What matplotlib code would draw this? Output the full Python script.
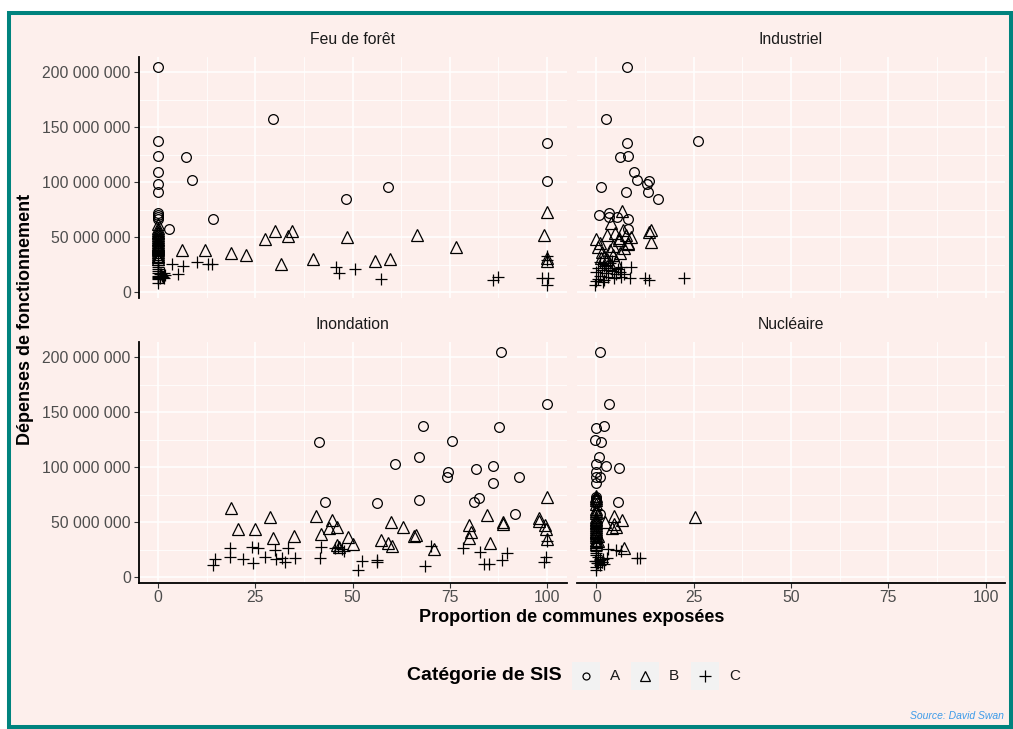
import numpy as np
import matplotlib
matplotlib.use("Agg")
import matplotlib.pyplot as plt
from matplotlib.lines import Line2D
from matplotlib.patches import Rectangle
from matplotlib.ticker import FuncFormatter, MultipleLocator

# ---- data (x = % communes exposées, y = dépenses en millions d'euros) ----
feu_a_x = [0, 29.6, 0, 0, 0, 0, 0, 7.2, 8.7, 100, 100, 48.4, 59, 14.1, 2.9, 0, 0, 0, 0]
feu_a_y = [205, 157, 137, 123.6, 109, 98, 91, 122.4, 102, 135.7, 100.5, 85, 95.4, 66.7, 57.3, 72, 70, 68.5, 66]
feu_b_x = [0, 0, 0, 0, 0, 0, 0, 0, 0, 0, 0, 0, 0, 0, 0, 0, 0, 0, 0, 0, 0, 0,
           6.3, 12.1, 18.8, 22.6, 27.6, 30.1, 33.3, 34.5,
           31.7, 39.8, 48.7, 55.8, 59.6, 66.6, 76.5, 100, 99.3, 100, 100]
feu_b_y = [62, 56, 54, 50, 47, 44, 42, 40, 38, 35, 33, 30, 31.5, 36.5, 39, 41, 43, 45.5, 48.5, 52, 55, 58,
           38.2, 38.2, 35.8, 33.3, 47.9, 55.4, 50.9, 55.2,
           25.8, 30.3, 50.3, 28.5, 30, 52.1, 40.9, 73, 52.1, 31, 28.5]
feu_c_x = [0, 0, 0, 0, 0, 0, 0, 0, 0, 0, 0, 1, 1.5, 0.8, 1.8, 0.4, 1.2, 0.6, 1.6,
           3.7, 5.1, 6.5, 10.1, 12.9, 13.8,
           45.7, 46.6, 50.7, 57.2, 86.2, 87.5, 98.6, 100.3, 100, 100, 100]
feu_c_y = [27, 25, 23, 21, 19, 17, 15, 14, 13, 12, 8, 15, 13, 16.5, 15.5, 16, 14, 12.5, 17,
           25.2, 16.1, 24, 27, 25.2, 25.2,
           23, 17.6, 21.2, 11.5, 10.6, 14, 12.4, 12.4, 6.4, 29, 33]

ind_a_x = [7.9, 2.4, 7.9, 26, 6, 8, 9.7, 10.5, 1.1, 7.5, 12.9, 13.6, 13.3, 15.7, 0.6, 3.3, 3.3, 5.3, 8.1, 8.1]
ind_a_y = [204.8, 157.3, 135.7, 137, 122.4, 123.6, 109, 102, 95.4, 90.6, 98, 100.6, 91, 85, 70, 71.8, 68.5, 68.5,
           66.7, 57.3]
ind_b_x = [6.6, 3.7, 14.1, 13.5, 14.1, 0, 0.3, 2.6, 4.7, 6.7, 7.7, 8.1, 5.8, 3.4, 1.5, 4.3, 6, 2.6, 5.1, 1.1,
           3.4, 2, 5.9, 8, 7.2, 4.2, 1, 9]
ind_b_y = [74, 62.4, 56.4, 55, 45.2, 48.2, 41.2, 51.8, 53.3, 56.4, 51.8, 43.5, 47.3, 38.2, 36.7, 33.6, 35.2, 30,
           27.5, 30.6, 25.8, 32.1, 48.8, 44.2, 40, 42, 45, 50]
ind_c_x = [22.6, 12.6, 13.6, 8.9, 8.5, 6.3, -0.3, 0.5, 1, 0, 1.5, 2, 2.5, 3, 3, 3.5, 4, 4.5, 5, 5.5, 1, 2, 6, 7,
           4, 0.5, 6.4, 0, 1.8]
ind_c_y = [12.7, 12.4, 10.9, 23, 12.4, 13.9, 6.4, 12, 15, 18, 20, 24, 17, 14, 22, 26, 19, 13, 16, 21, 27, 11, 18,
           16, 28, 22, 23, 10, 9]

ino_a_x = [88.1, 99.9, 68.2, 87.7, 41.4, 75.7, 67, 60.9, 74.6, 74.2, 81.8, 86.2, 86.1, 92.8, 42.9, 56.2, 67, 81.2,
           82.6, 91.7]
ino_a_y = [204.8, 157.3, 137, 136, 122.4, 123.9, 109.4, 102.4, 95.7, 91.2, 98.5, 100.6, 85.5, 90.9, 68.2, 67, 70,
           68.5, 71.8, 57.3]
ino_b_x = [18.9, 20.6, 25, 28.9, 29.6, 35, 40.6, 42, 44.7, 44, 46.1, 46.1, 46.6, 48.9, 50.2, 57.2, 59, 60.2, 59.9,
           62.9, 66.2, 65.9, 71, 80, 80.4, 80, 84.6, 85.4, 88.8, 88.8, 97.9, 98, 99.5, 99.8, 99.9, 100]
ino_b_y = [62.4, 43.9, 43.3, 54.2, 35.2, 37.3, 55.2, 38.8, 51.8, 44.2, 45.8, 29.1, 27.6, 36.7, 29.7, 33.6, 31.2,
           28.2, 50.3, 45.2, 38.2, 37.3, 25.5, 47.3, 40.6, 35.2, 56.4, 30.6, 50.3, 48.2, 53.3, 51, 47.3, 43.3,
           73, 34.2]
ino_c_x = [14.2, 14.7, 18.5, 18.5, 21.9, 24.1, 24.3, 25.8, 27.5, 30.1, 30.3, 31.8, 32.6, 33.5, 35.2, 41.6, 41.9,
           45.5, 46.4, 47.2, 47.9, 51.3, 52.5, 56.2, 56.2, 68.6, 70.2, 78.5, 82.8, 83.8, 85.2, 88.4, 89.6, 99.1,
           99.7, 100]
ino_c_y = [10.9, 16, 26, 17.9, 16, 27, 12.4, 26, 18.5, 24.5, 16.4, 17, 13.9, 26, 17.6, 17, 27.6, 26, 27.6, 25.2,
           23.6, 6.4, 14.8, 15.5, 13.6, 10.3, 28.2, 26, 22.4, 12.1, 12.1, 15.5, 21.5, 13.9, 17.9, 33]

nuc_a_x = [0.9, 3.1, -0.2, 1.9, -0.3, 1.1, 0.7, 0, 2.5, 5.9, -0.2, 1, 0, 0, 5.6, 0, 0, 0, 0, 1]
nuc_a_y = [204.8, 157.6, 135.8, 137, 124.2, 122.7, 109.4, 102.4, 100.9, 98.8, 95.7, 91.2, 91.2, 85.2, 68.2, 73,
           71, 69.5, 67, 57.3]
nuc_b_x = [25.3, 4.4, 6.6, 3.9, 5.1, 4.4, 2.1, 7, 0, 0, 0, 0, 0, 0, 0, 0, 0, 0, 0, 0, 0, 0, 0,
           0, 0, 0, 0, 0, 0, 0, 0, 0.5, 0.3]
nuc_b_y = [54.8, 55.5, 51.8, 44.2, 45.7, 48.5, 50.3, 26, 74, 62, 58, 55, 52, 50, 47, 44, 42, 40, 38, 36, 34, 32,
           30, 72, 70, 66, 60, 53, 49, 45.5, 41, 37, 33]
nuc_c_x = [10.3, 11.3, 5.1, 3, 6.4, 2.6, 0, 0, 0, 0, 0, 0, 0.5, 1, 0, 1.5, 0.5, 2, 1, 0,
           -0.4, 0.8, 1.8, 0.2, 1.3]
nuc_c_y = [17, 17, 24.5, 25.2, 23.9, 17, 6.4, 28, 26, 24, 22, 20, 18, 16, 15, 14, 13, 12, 11, 9,
           14.5, 15.5, 16.5, 12.5, 13.5]

panel_titles = ["Feu de forêt", "Industriel", "Inondation", "Nucléaire"]
categories = ["A", "B", "C"]
panel_data = [
    [(feu_a_x, feu_a_y), (feu_b_x, feu_b_y), (feu_c_x, feu_c_y)],
    [(ind_a_x, ind_a_y), (ind_b_x, ind_b_y), (ind_c_x, ind_c_y)],
    [(ino_a_x, ino_a_y), (ino_b_x, ino_b_y), (ino_c_x, ino_c_y)],
    [(nuc_a_x, nuc_a_y), (nuc_b_x, nuc_b_y), (nuc_c_x, nuc_c_y)],
]

# ---- style ----
BG = "#FDEFEC"
TEAL = "#00837E"
plt.rcParams["font.family"] = ["Liberation Sans", "DejaVu Sans"]
markers = {"A": dict(marker="o", ms=7.0),
           "B": dict(marker="^", ms=8.0),
           "C": dict(marker="+", ms=9.0)}

W, H = 1013, 729
fig = plt.figure(figsize=(W / 100, H / 100), dpi=100, facecolor="white")

# framed background
fig.add_artist(Rectangle((9 / W, 2 / H), (1011 - 9) / W, (727 - 13) / H,
                         transform=fig.transFigure, facecolor=BG, edgecolor=TEAL,
                         linewidth=2.9, zorder=0))

# panel boxes in pixels: (left, right) columns and (top, bottom) rows
cols = [(138.5, 566.5), (577, 1005)]
rows = [(56.6, 297.5), (341.6, 582.5)]


def fmt_space(v, pos):
    return f"{int(round(v)):,}".replace(",", " ")


for i in range(4):
    r, c = divmod(i, 2)
    x0, x1 = cols[c]
    y0, y1 = rows[r]
    ax = fig.add_axes([x0 / W, 1 - y1 / H, (x1 - x0) / W, (y1 - y0) / H])
    ax.set_facecolor(BG)
    ax.set_xlim(-5, 105)
    ax.set_ylim(-5e6, 214e6)
    ax.xaxis.set_major_locator(MultipleLocator(25))
    ax.xaxis.set_minor_locator(MultipleLocator(12.5))
    ax.yaxis.set_major_locator(MultipleLocator(50e6))
    ax.yaxis.set_minor_locator(MultipleLocator(25e6))
    ax.yaxis.set_major_formatter(FuncFormatter(fmt_space))
    ax.grid(True, which="major", color="white", lw=1.1)
    ax.grid(True, which="minor", color="white", lw=0.55)
    ax.set_axisbelow(True)
    for s in ["top", "right"]:
        ax.spines[s].set_visible(False)
    ax.spines["left"].set_visible(c == 0)
    ax.spines["bottom"].set_visible(r == 1)
    for s in ["left", "bottom"]:
        ax.spines[s].set_color("black")
        ax.spines[s].set_linewidth(1.3)
    ax.tick_params(which="minor", length=0)
    ax.tick_params(axis="both", which="major", length=3.5, width=0.8, color="#333333",
                   labelsize=11.3, labelcolor="#4D4D4D", pad=2)
    if c == 1:
        ax.tick_params(axis="y", left=False, labelleft=False)
    if r == 0:
        ax.tick_params(axis="x", bottom=False, labelbottom=False)

    for cat, (xs, ys) in zip(categories, panel_data[i]):
        ax.plot(xs, np.array(ys) * 1e6, ls="none", mfc="none", mec="black",
                mew=0.9, clip_on=False, **markers[cat])

    ax.text(0.5, 1 + 17 / 241, panel_titles[i], transform=ax.transAxes,
            ha="center", va="center", fontsize=11.3, color="#1A1A1A")

# axis titles
fig.text(572 / W, 1 - 618 / H, "Proportion de communes exposées", ha="center", va="center",
         fontsize=13, fontweight="bold", color="black")
fig.text(25 / W, 1 - 319.5 / H, "Dépenses de fonctionnement", ha="center", va="center",
         rotation=90, fontsize=13, fontweight="bold", color="black")

# legend drawn by hand (ggplot style keys)
ly = 1 - 676 / H
fig.text(562 / W, ly, "Catégorie de SIS", ha="right", va="center", fontsize=14,
         fontweight="bold", color="black")
key_x = [586, 645, 705]
leg_ms = {"A": 5.0, "B": 6.5, "C": 8.0}
for cat, kx in zip(categories, key_x):
    fig.add_artist(Rectangle(((kx - 14) / W, ly - 14 / H), 28 / W, 28 / H,
                             transform=fig.transFigure, facecolor="#F2F2F2",
                             edgecolor="none", zorder=2))
    m = dict(markers[cat])
    m["ms"] = leg_ms[cat]
    fig.add_artist(Line2D([kx / W], [ly], transform=fig.transFigure, ls="none",
                          mfc="none", mec="black", mew=0.9, zorder=3, **m))
    fig.text((kx + 24) / W, ly, cat, ha="left", va="center", fontsize=11, color="#1A1A1A")

fig.text(1004 / W, 1 - 716 / H, "Source: David Swan", ha="right", va="center",
         fontsize=7.5, style="italic", color="#3D9BE9")

fig.savefig("out.png", dpi=100, facecolor="white")
